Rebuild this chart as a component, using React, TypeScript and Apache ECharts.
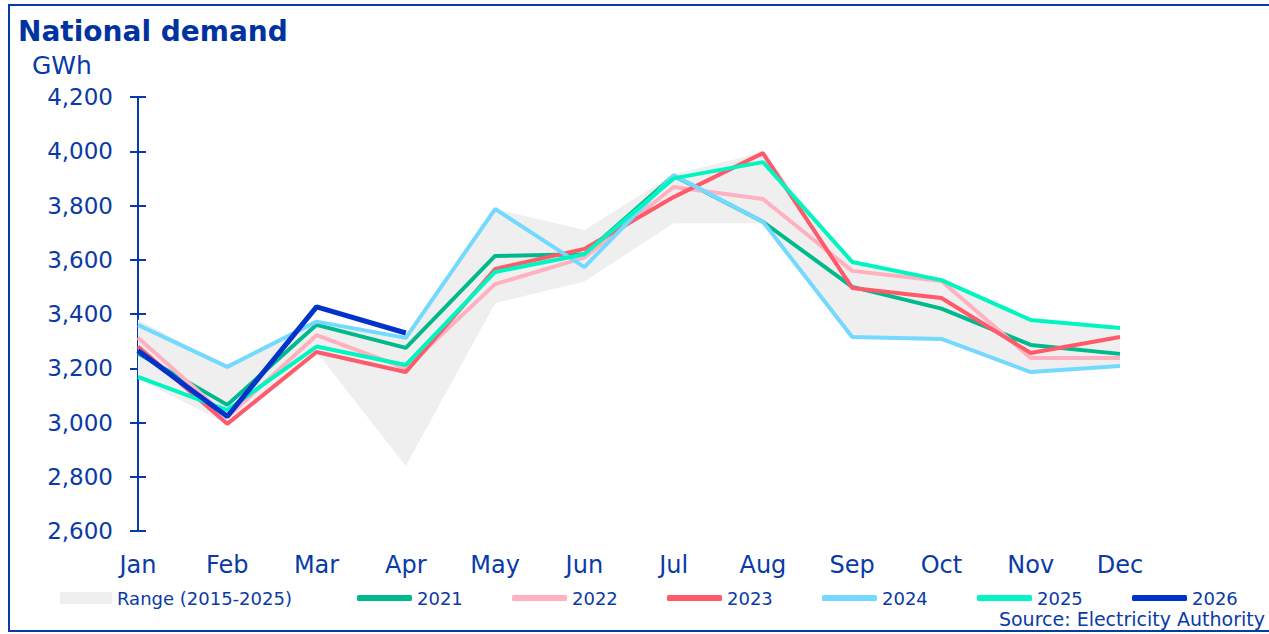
import React, { useEffect, useRef } from "react";
import * as echarts from "echarts";

const months = ["Jan", "Feb", "Mar", "Apr", "May", "Jun", "Jul", "Aug", "Sep", "Oct", "Nov", "Dec"];
const yTicks = { min: 2600, max: 4200, interval: 200 };

const rangeLow = [3160, 2995, 3260, 2840, 3440, 3520, 3735, 3735, 3310, 3305, 3185, 3205];
const rangeHigh = [3380, 3205, 3372, 3312, 3787, 3710, 3915, 3995, 3592, 3525, 3378, 3350];

const y2021 = [3255, 3065, 3360, 3275, 3614, 3620, 3910, 3740, 3500, 3420, 3286, 3253];
const y2022 = [3312, 3020, 3322, 3200, 3510, 3608, 3868, 3824, 3559, 3522, 3238, 3238];
const y2023 = [3280, 2995, 3260, 3186, 3566, 3640, 3831, 3993, 3496, 3459, 3256, 3315];
const y2024 = [3360, 3205, 3372, 3312, 3787, 3573, 3912, 3740, 3315, 3308, 3186, 3208];
const y2025 = [3168, 3046, 3280, 3212, 3555, 3620, 3900, 3960, 3592, 3525, 3378, 3348];
const y2026 = [3265, 3022, 3426, 3330];

const yearSeries = [
  { name: "2021", data: y2021, color: "#00b98c", width: 4 },
  { name: "2022", data: y2022, color: "#ffb1c1", width: 4 },
  { name: "2023", data: y2023, color: "#ff5a6a", width: 4 },
  { name: "2024", data: y2024, color: "#74d9ff", width: 4 },
  { name: "2025", data: y2025, color: "#00f5c0", width: 4 },
  { name: "2026", data: y2026, color: "#0033cc", width: 5 },
];

const NAVY = "#0a3aa8";
const FONT = "DejaVu Sans";

export default function App() {
  const ref = useRef<HTMLDivElement>(null);

  useEffect(() => {
    if (!ref.current) return;
    const chart = echarts.init(ref.current, undefined, { renderer: "svg" });

    const rangeDiff = rangeHigh.map((v, i) => v - rangeLow[i]);
    const rangeName = "Range (2015-2025)";

    const series: any[] = [
      {
        name: "rangeLow",
        type: "line",
        stack: "range",
        data: rangeLow,
        symbol: "none",
        lineStyle: { opacity: 0, width: 0 },
        silent: true,
        z: 1,
      },
      {
        name: rangeName,
        type: "line",
        stack: "range",
        data: rangeDiff,
        symbol: "none",
        lineStyle: { opacity: 0, width: 0 },
        itemStyle: { color: "#efefef" },
        areaStyle: { color: "#efefef", opacity: 1 },
        silent: true,
        z: 1,
      },
      ...yearSeries.map((s, i) => ({
        name: s.name,
        type: "line",
        data: s.data,
        symbol: "none",
        itemStyle: { color: s.color },
        lineStyle: { color: s.color, width: s.width },
        z: 2 + i,
      })),
    ];

    const legendLefts = [357, 512, 667, 822, 977, 1132];
    const legendText = { color: NAVY, fontSize: 18, fontFamily: FONT, lineHeight: 18 };
    const legends: any[] = [
      {
        data: [{ name: rangeName, icon: "rect", itemStyle: { color: "#efefef" } }],
        left: 60,
        top: 589,
        padding: 0,
        itemWidth: 52,
        itemHeight: 12,
        itemGap: 0,
        textStyle: legendText,
        selectedMode: false,
      },
      ...yearSeries.map((s, i) => ({
        data: [{ name: s.name, icon: "roundRect", itemStyle: { color: s.color } }],
        left: legendLefts[i],
        top: 589,
        padding: 0,
        itemWidth: 55,
        itemHeight: 6,
        textStyle: legendText,
        selectedMode: false,
      })),
    ];

    chart.setOption({
      animation: false,
      backgroundColor: "#ffffff",
      grid: { left: 138, right: 149, top: 97, bottom: 103 },
      legend: legends,
      xAxis: {
        type: "category",
        data: months,
        boundaryGap: false,
        axisLine: { show: false },
        axisTick: { show: false },
        axisLabel: { color: NAVY, fontSize: 24, fontFamily: FONT, margin: 22 },
        splitLine: { show: false },
      },
      yAxis: [
        {
          type: "value",
          min: yTicks.min,
          max: yTicks.max,
          interval: yTicks.interval,
          axisLine: { show: true, lineStyle: { color: NAVY, width: 2 } },
          axisTick: { show: true, length: 8, lineStyle: { color: NAVY, width: 2 } },
          axisLabel: {
            color: NAVY,
            fontSize: 23,
            fontFamily: FONT,
            margin: 25,
            formatter: (v: number) => v.toLocaleString("en-US"),
          },
          splitLine: { show: false },
        },
        {
          type: "value",
          min: yTicks.min,
          max: yTicks.max,
          interval: yTicks.interval,
          position: "left",
          axisLine: { show: false },
          axisTick: { show: true, inside: true, length: 8, lineStyle: { color: NAVY, width: 2 } },
          axisLabel: { show: false },
          splitLine: { show: false },
        },
      ],
      graphic: [
        {
          type: "rect",
          shape: { x: 9, y: 5, width: 1300, height: 626 },
          style: { fill: "none", stroke: "#0a3aa8", lineWidth: 2 },
          silent: true,
        },
        {
          type: "text",
          x: 18,
          y: 31,
          style: {
            text: "National demand",
            fill: "#0033a0",
            font: `bold 28px "${FONT}"`,
            textVerticalAlign: "middle",
          },
        },
        {
          type: "text",
          x: 32,
          y: 65,
          style: {
            text: "GWh",
            fill: NAVY,
            font: `25px "${FONT}"`,
            textVerticalAlign: "middle",
          },
        },
        {
          type: "text",
          x: 1265,
          y: 619,
          style: {
            text: "Source: Electricity Authority",
            fill: NAVY,
            font: `19px "${FONT}"`,
            textAlign: "right",
            textVerticalAlign: "middle",
          },
        },
      ],
      series,
    });

    return () => chart.dispose();
  }, []);

  return (
    <div
      ref={ref}
      style={{ position: "fixed", left: 0, top: 0, width: 1269, height: 634, background: "#fff" }}
    />
  );
}
